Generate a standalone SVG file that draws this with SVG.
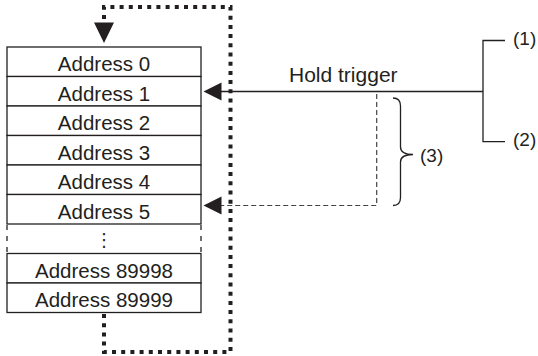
<svg xmlns="http://www.w3.org/2000/svg" width="538" height="356" viewBox="0 0 538 356">
<style>
.cell{fill:#fff;stroke:#231f20;stroke-width:1.3}
.t{font-family:"Liberation Sans",Arial,sans-serif;font-size:20.5px;fill:#231f20;text-anchor:middle}
.lbl{font-family:"Liberation Sans",Arial,sans-serif;font-size:19px;fill:#231f20}
.dot{fill:none;stroke:#231f20;stroke-width:4;stroke-dasharray:4 5.2}
.solid{fill:none;stroke:#231f20;stroke-width:1.3}
.dash{fill:none;stroke:#444;stroke-width:1.2;stroke-dasharray:5 3}
.side{fill:none;stroke:#231f20;stroke-width:1.3;stroke-dasharray:5 6}
.ah{fill:#231f20}
</style>
<rect width="538" height="356" fill="#fff"/>
<g id="connectors">
<path class="dot" d="M104,314 V352 H230.5 V7 H104 V22"/>
<polygon class="ah" points="94,22.5 114,22.5 104,43"/>
<path class="solid" d="M221,91.5 H483"/>
<polygon class="ah" points="203.5,91.5 221.5,82.5 221.5,100.5"/>
<path class="solid" d="M505,40.5 H483 V141.7 H505"/>
<path class="dash" d="M376.7,94 V205.5 H221"/>
<polygon class="ah" points="203.5,205.5 221.5,196.5 221.5,214.5"/>
<path class="solid" d="M393,98 Q400.5,98 400.5,106 L400.5,147 Q400.5,154.5 413,154.5 Q400.5,154.5 400.5,162 L400.5,197.5 Q400.5,205.5 393,205.5"/>
</g>
<g id="addr0"><rect class="cell" x="7" y="47" width="194" height="29.5"/><text class="t" x="104" y="71">Address 0</text></g>
<g id="addr1"><rect class="cell" x="7" y="76.5" width="194" height="29.5"/><text class="t" x="104" y="100.5">Address 1</text></g>
<g id="addr2"><rect class="cell" x="7" y="106" width="194" height="29.5"/><text class="t" x="104" y="130">Address 2</text></g>
<g id="addr3"><rect class="cell" x="7" y="135.5" width="194" height="29.5"/><text class="t" x="104" y="159.5">Address 3</text></g>
<g id="addr4"><rect class="cell" x="7" y="165" width="194" height="29.5"/><text class="t" x="104" y="189">Address 4</text></g>
<g id="addr5"><rect class="cell" x="7" y="194.5" width="194" height="29.5"/><text class="t" x="104" y="218.5">Address 5</text></g>
<g id="ellipsis">
<path class="side" d="M7,225 V253.5 M201,225 V253.5"/>
<text x="104" y="246" font-family="DejaVu Sans,sans-serif" font-size="18" fill="#231f20" text-anchor="middle">⋮</text>
</g>
<g id="addr89998"><rect class="cell" x="7" y="253.5" width="194" height="29.5"/><text class="t" x="104" y="277.5">Address 89998</text></g>
<g id="addr89999"><rect class="cell" x="7" y="283" width="194" height="29.5"/><text class="t" x="104" y="307">Address 89999</text></g>
<g id="labels">
<text class="t" x="343.3" y="82.3" style="font-size:21px">Hold trigger</text>
<text class="lbl" x="513" y="45">(1)</text>
<text class="lbl" x="513" y="146">(2)</text>
<text class="lbl" x="420" y="162">(3)</text>
</g>
</svg>
